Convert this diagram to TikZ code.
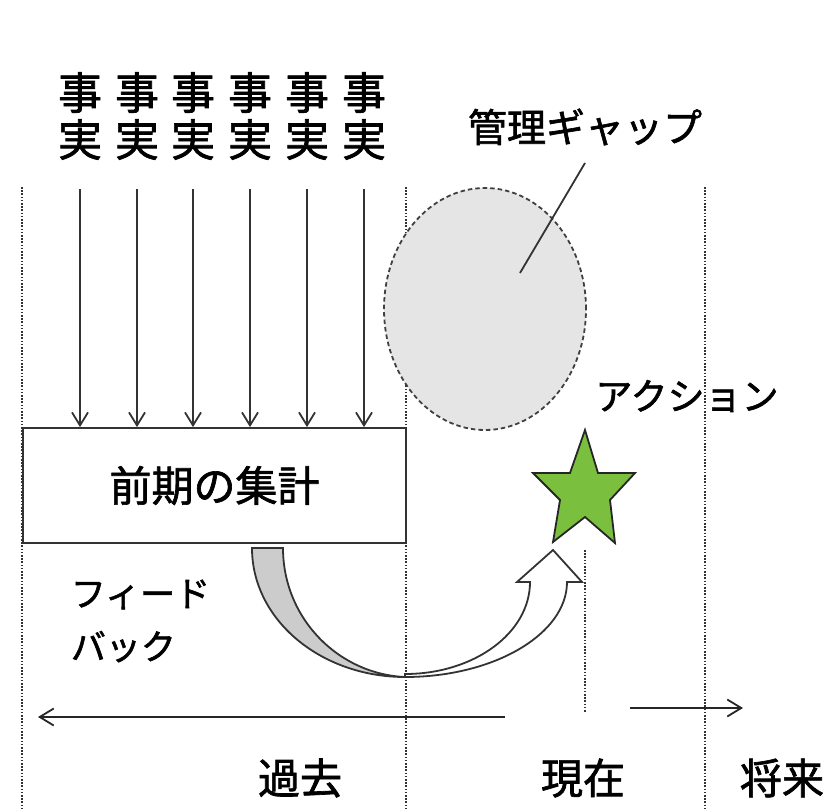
\documentclass[tikz,border=0pt]{standalone}
\usepackage{fontspec}
\setmainfont{Noto Sans CJK JP}[FakeBold=1.6]
\usepackage{tikz}
\usetikzlibrary{arrows, positioning, shapes}
\usetikzlibrary{arrows.meta}

\definecolor{stargreen}{RGB}{122,192,62}

\begin{document}
\begin{tikzpicture}[x=1pt, y=-1pt, line width=1.8pt,
  factlbl/.style={align=center, inner sep=0pt, font=\fontsize{44}{47}\selectfont},
  bigtxt/.style={inner sep=0pt, font=\fontsize{42}{44}\selectfont},
  timeline/.style={black!80, line width=2pt, dash pattern=on 1.6pt off 1.6pt},
  factarrow/.style={black!80, -{Straight Barb[length=13pt,width=16pt]}},
  timearrow/.style={black!85, -{Straight Barb[length=14pt,width=17pt]}}]

\useasboundingbox (0,0) rectangle (830,811);

% time divisions
\draw[timeline] (22,187) -- (22,811);
\draw[timeline] (406,187) -- (406,811);
\draw[timeline] (705,187) -- (705,811);
\draw[timeline] (585,550) -- (585,712);

% management gap
\node[ellipse, draw=black!75, dash pattern=on 4.5pt off 3pt, fill=gray!20, minimum width=202pt, minimum height=242pt] (gap) at (485,309) {};
\node[bigtxt, font=\fontsize{39}{41}\selectfont] (gaplbl) at (585,127) {管理ギャップ};
\coordinate (gapin) at (520,273);
\draw[black!80] ([shift={(0,36)}]gaplbl.center) -- (gapin);

% facts and summary
\node[draw=black!80, fill=white, minimum width=383pt, minimum height=115pt, bigtxt] (sum) at (214.5,485.5) {前期の集計};
\foreach \x [count=\i] in {80,137,193,250,307,364}{
  \node[factlbl] (fact\i) at (\x,116) {事\\実};
  \coordinate (top\i) at (\x,189);
  \draw[factarrow] (top\i) -- (top\i |- sum.north);
}

% action
\coordinate (act) at (585,490);
\draw[black!85, fill=stargreen, line join=miter] (585,430) -- (598,473) -- (635,473) -- (610,500) -- (615,543) -- (585,517) -- (553,542) -- (560,500) -- (533,473) -- (570,473) -- cycle;
\node[bigtxt, font=\fontsize{37}{39}\selectfont] (actlbl) at (687,396) {アクション};

% feedback
\draw[black!80, fill=gray!40] (252,548) .. controls (252,620) and (321,677) .. (405,677) .. controls (338,674) and (283,618) .. (283,548) -- cycle;
\draw[black!80, fill=white, line join=miter] (405,677) .. controls (494,677) and (567,634) .. (567,582) -- (582,582) -- (553,550) -- (517,582) -- (530,582) .. controls (530,633) and (474,674) .. (405,674) -- cycle;
\node[align=left, anchor=west, inner sep=0pt, font=\fontsize{35}{53}\selectfont] (fblbl) at (70,621) {フィード\\バック};

% time axis
\coordinate (pastR) at (505,717);
\coordinate (pastL) at (38,717);
\coordinate (futL) at (630,708);
\coordinate (futR) at (743,708);
\draw[timearrow] (pastR) -- (pastL);
\draw[timearrow] (futL) -- (futR);
\node[bigtxt] (past) at (300,778) {過去};
\node[bigtxt] (now) at (583,778) {現在};
\node[bigtxt] (future) at (782,778) {将来};

\end{tikzpicture}
\end{document}
